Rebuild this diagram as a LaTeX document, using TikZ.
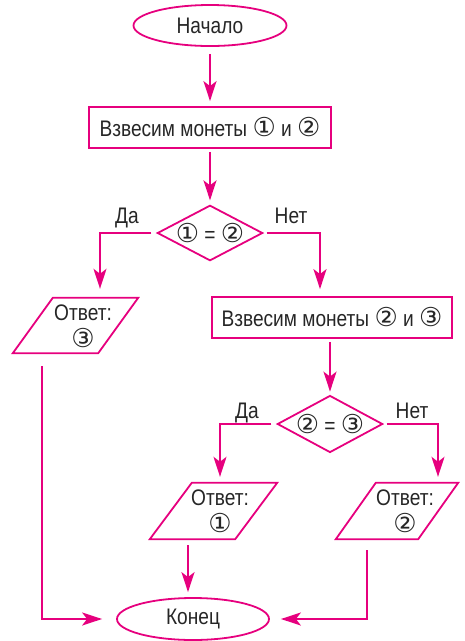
\documentclass[tikz,border=0pt]{standalone}
\usepackage{fontspec}
\setmainfont{Liberation Sans}[FakeStretch=0.85]
\newfontfamily\circfont{DejaVu Sans}
\usetikzlibrary{shapes.geometric,arrows.meta,calc}
\definecolor{mag}{RGB}{230,0,126}
\newcommand{\cn}[1]{{\circfont\fontsize{26}{27}\selectfont #1}}
\begin{document}
\begin{tikzpicture}[x=1pt,y=-1pt,
  font=\fontsize{22.5}{27}\selectfont,
  every node/.style={text=black!85},
  shp/.style={draw=mag, line width=1.8pt, inner sep=0pt},
  term/.style={shp, ellipse, minimum width=153pt, minimum height=41pt},
  proc/.style={shp, rectangle, minimum width=242pt, minimum height=41pt},
  dec/.style={shp, diamond, aspect=1.9, minimum width=104pt, minimum height=55pt},
  iobox/.style={rectangle, inner sep=0pt, minimum width=125pt, minimum height=55pt},
  ioline/.style={draw=mag, line width=1.8pt, line join=miter},
  lbl/.style={align=center, inner sep=0pt},
  arr/.style={draw=mag, line width=1.8pt, -{Stealth[length=20pt,width=13pt,inset=5pt]}}]
\useasboundingbox (0,0) rectangle (465,641);
\node[term] (start) at (210,25.5) {Начало};
\node[proc] (b1) at (210,127.5) {Взвесим монеты \cn{①} и \cn{②}};
\node[dec] (d1) at (210,233) {\cn{①} = \cn{②}};
\node[iobox] (p1) at (75.5,325.5) {};
\draw[ioline] (p1.south west) -- ([xshift=-40pt]p1.south east) -- (p1.north east) -- ([xshift=40pt]p1.north west) -- cycle;
\node[lbl] (t1) at (83,326) {Ответ:\\\cn{③}};
\node[proc, minimum width=240pt] (b2) at (332,317.5) {Взвесим монеты \cn{②} и \cn{③}};
\node[dec, minimum width=105pt, minimum height=57pt] (d2) at (330,424) {\cn{②} = \cn{③}};
\node[iobox, minimum width=127pt, minimum height=56pt] (p2) at (213.5,511) {};
\draw[ioline] (p2.south west) -- ([xshift=-42pt]p2.south east) -- (p2.north east) -- ([xshift=42pt]p2.north west) -- cycle;
\node[lbl] (t2) at (220,511) {Ответ:\\\cn{①}};
\node[iobox, minimum width=122pt, minimum height=56pt] (p3) at (397,511) {};
\draw[ioline] (p3.south west) -- ([xshift=-40pt]p3.south east) -- (p3.north east) -- ([xshift=40pt]p3.north west) -- cycle;
\node[lbl] (t3) at (405,511) {Ответ:\\\cn{②}};
\node[term, minimum width=152pt, minimum height=42pt] (end) at (193,619) {Конец};
\node[lbl, anchor=base] (da1) at (127,223) {Да};
\node[lbl, anchor=base] (net1) at (291,223) {Нет};
\node[lbl, anchor=base] (da2) at (247,418) {Да};
\node[lbl, anchor=base] (net2) at (412,418) {Нет};
\draw[arr, shorten <=7pt, shorten >=5pt] (start.south) -- (b1.north);
\draw[arr, shorten <=3pt, shorten >=4pt] (b1.south) -- (d1.north);
\draw[arr, shorten <=5pt, shorten >=9pt] (d1.west) -| ([xshift=24.5pt]p1.north);
\draw[arr, shorten <=3pt, shorten >=7pt] (d1.east) -| ([xshift=-12pt]b2.north);
\draw[arr, shorten <=3pt, shorten >=3pt] (b2.south -| d2.north) -- (d2.north);
\draw[arr, shorten <=5pt, shorten >=6pt] (d2.west) -| ([xshift=6.5pt]p2.north);
\draw[arr, shorten <=3pt, shorten >=6pt] (d2.east) -| ([xshift=41pt]p3.north);
\draw[arr, shorten <=13pt, shorten >=14pt] ([xshift=-33.5pt]p1.south) |- (end.west);
\path ([xshift=-25.5pt]p2.south) coordinate (c2);
\draw[arr, shorten <=6pt, shorten >=5pt] (c2) -- (c2 |- end.north);
\draw[arr, shorten <=11pt, shorten >=11pt] ([xshift=-30pt]p3.south) |- (end.east);
\end{tikzpicture}
\end{document}
